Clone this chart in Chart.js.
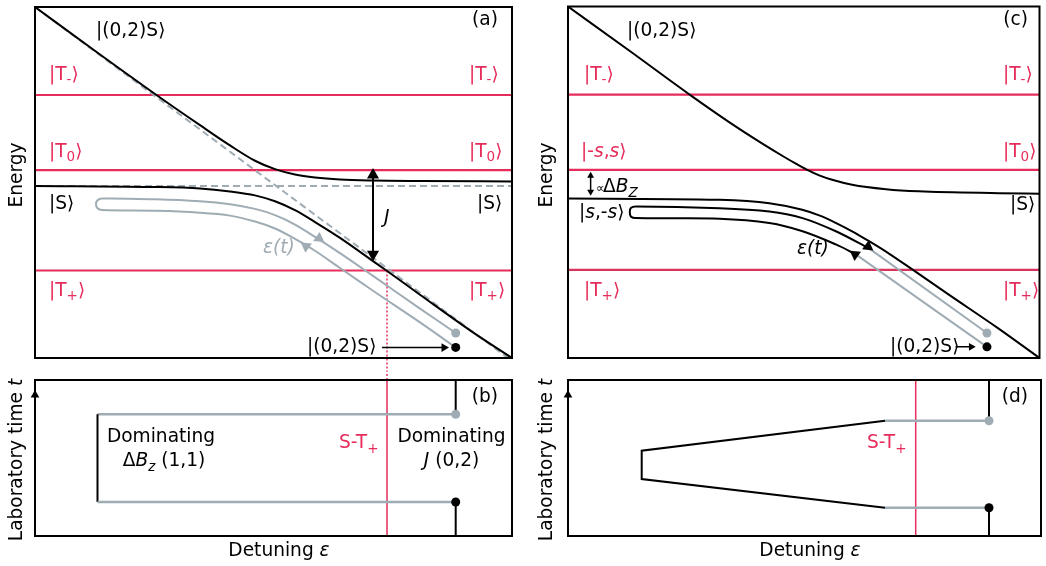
<!DOCTYPE html>
<html>
<head>
<meta charset="utf-8">
<script src="https://cdn.jsdelivr.net/npm/chart.js@4/dist/chart.umd.min.js"></script>
<style>
  body { margin: 0; background: #fff; }
  canvas { position: absolute; }
</style>
</head>
<body>
<canvas id="panelA" width="525" height="372" style="left:0;top:0"></canvas>
<canvas id="panelB" width="525" height="194" style="left:0;top:372px"></canvas>
<canvas id="panelC" width="521" height="372" style="left:525px;top:0"></canvas>
<canvas id="panelD" width="521" height="194" style="left:525px;top:372px"></canvas>
<script>
const RED = "#e62c5a";
const GREY = "#a0acb4";
const FONT = '"DejaVu Sans", Verdana, sans-serif';

// (a) energy vs detuning, arbitrary units
const tripletsA = [266, 190, 88.5]; // T-, T0, T+
const upperA = [[0, 355], [65, 307], [125, 263.5], [165, 235.5], [195, 215], [220, 199.5], [240, 191], [260, 185.5], [280, 182.5], [305, 180.5], [338, 179.5], [385, 179], [477, 178.5]];
const lowerA = [[0, 174], [115, 173], [165, 171.5], [195, 168.5], [220, 164.5], [240, 158.5], [260, 149.5], [280, 137.5], [305, 121.5], [338, 98], [350, 89.5], [385, 64], [435, 28], [477, 0]];
const bareS02A = [[0, 355], [473, 0]];
const bareSA = [[0, 174], [477, 174]];
const sweepA = [[420.7, 10.7], [385, 36], [338, 68], [305, 91], [280, 108.5], [260, 120.5], [240, 131], [220, 138], [195, 144], [165, 147], [121, 149], [67, 149.7], [62.5, 151.5], [61, 155.5], [62.5, 159.5], [67, 161.3], [121, 160.5], [165, 158.5], [195, 155.5], [220, 150.8], [240, 144.5], [260, 135], [280, 122.5], [305, 106], [338, 83], [385, 50], [420.7, 25.3]];
const crossingA = 352; // S-T+ detuning
const gapA = [338, 99, 191]; // J arrow: detuning, bottom, top

// (b) laboratory time vs detuning
const pulseB = [[62.5, 121.7], [62.5, 34]];
const waitB = [121.7, 34]; // end, start
const parkB = 420.7;

// (c) energy vs detuning
const tripletsC = [266, 190, 89];
const upperC = [[0, 355], [62, 310], [122, 266], [162, 238], [195, 216.5], [217, 203], [229, 196], [239, 190.5], [252, 184.5], [265, 180], [285, 175], [319, 170.5], [352, 168.3], [432, 166.5], [473, 166]];
const lowerC = [[0, 161], [152, 159.7], [202, 156.3], [235, 149.7], [252, 144], [269, 136.3], [285, 128], [302, 118], [322, 105.5], [345, 89.7], [382, 64], [432, 29.7], [473, 0]];
const sweepC = [[288.7, 104.7], [268.7, 114.7], [235.3, 128], [202, 136.3], [152, 140.7], [68, 141.3], [63, 143], [62, 147.2], [63, 151.5], [68, 153], [152, 151.3], [202, 148], [235.3, 141.3], [268.7, 128], [302, 110.7]];
const rampC = [[[302, 110.7], [420.3, 25.3]], [[288.7, 104.7], [420.3, 11.3]]];
const zeemanC = [22.7, 167, 185];

// (d) laboratory time vs detuning
const pulseD = [[317, 115.3], [73.7, 85.3], [73.7, 57], [317, 28.3]];
const waitD = [115.3, 28.3];
const parkD = 421;
const crossingD = 347.7;

const pts = (a) => a.map(([x, y]) => ({ x, y }));

function path(data, color, width, more) {
  return Object.assign({
    data: pts(data), showLine: true, borderColor: color, borderWidth: width,
    pointRadius: 0, tension: 0, fill: false,
  }, more || {});
}

const smooth = { cubicInterpolationMode: "monotone" };

function marks(data, color, radius, style, rotation) {
  return {
    data: pts(data), showLine: false, pointStyle: style || "circle",
    pointRadius: radius, pointRotation: rotation || 0,
    pointBackgroundColor: color, pointBorderWidth: 0, borderWidth: 0, clip: false,
  };
}

function fontFor(kind) {
  if (kind === "i") return "italic 18.6px " + FONT;
  if (kind === "sub") return "13.5px " + FONT;
  if (kind === "isub") return "italic 13.5px " + FONT;
  if (kind === "small") return "12px " + FONT;
  return "18.6px " + FONT;
}

function drawRich(ctx, parts, x, y, align) {
  let w = 0;
  parts.forEach(([t, k]) => { ctx.font = fontFor(k); w += ctx.measureText(t).width; });
  let cx = align === "right" ? x - w : align === "center" ? x - w / 2 : x;
  parts.forEach(([t, k]) => {
    ctx.font = fontFor(k);
    const dy = k === "sub" || k === "isub" ? 5 : 0;
    ctx.fillText(t, cx, y + dy);
    cx += ctx.measureText(t).width;
  });
}

const notesPlugin = (notes, origin) => ({
  id: "notes",
  afterDatasetsDraw(chart) {
    const { ctx, chartArea: a } = chart;
    ctx.save();
    ctx.strokeStyle = "#000";
    ctx.lineWidth = 2;
    ctx.strokeRect(a.left, a.top, a.right - a.left, a.bottom - a.top);
    ctx.translate(-origin[0], -origin[1]);
    ctx.textAlign = "left";
    notes.forEach((n) => {
      ctx.fillStyle = n.color || "#000";
      ctx.textBaseline = n.base || "middle";
      if (n.rotate) {
        ctx.save();
        ctx.translate(n.x, n.y);
        ctx.rotate(-Math.PI / 2);
        drawRich(ctx, n.parts, 0, 0, "center");
        ctx.restore();
      } else {
        drawRich(ctx, n.parts, n.x, n.y, n.align);
      }
    });
    ctx.restore();
  },
});

function makeChart(id, padding, xMax, yMax, layers, notes, origin) {
  new Chart(document.getElementById(id), {
    type: "scatter",
    data: { datasets: layers.slice().reverse() },
    options: {
      responsive: false,
      animation: false,
      events: [],
      layout: { padding },
      plugins: { legend: { display: false }, tooltip: { enabled: false } },
      scales: {
        x: { type: "linear", display: false, min: 0, max: xMax },
        y: { type: "linear", display: false, min: 0, max: yMax },
      },
    },
    plugins: [notesPlugin(notes, origin)],
  });
}

const ket = (sub) => [["|T"], [sub, "sub"], ["⟩"]];
const level = (v, w, color) => path([[0, v], [w, v]], color || RED, 2.2);

// (a)
makeChart("panelA", { left: 35, top: 3, right: 13, bottom: 14 }, 477, 355, [
  path([[crossingA, tripletsA[2]], [crossingA, -14]], RED, 1.5, { borderDash: [2, 2], clip: false }),
  ...tripletsA.map((v) => level(v, 477)),
  path(bareSA, GREY, 2, { borderDash: [7, 4] }),
  path(bareS02A, GREY, 2, { borderDash: [7, 4] }),
  path(sweepA, GREY, 2, { tension: 0.35 }),
  marks([[284, 121]], GREY, 6.5, "triangle", 125),
  marks([[271, 113]], GREY, 6.5, "triangle", 305),
  path(upperA, "#000", 2, smooth),
  path(lowerA, "#000", 2, smooth),
  path([[gapA[0], gapA[1] + 3], [gapA[0], gapA[2] - 3]], "#000", 2),
  marks([[gapA[0], gapA[2] - 6]], "#000", 7, "triangle", 0),
  marks([[gapA[0], gapA[1] + 6]], "#000", 7, "triangle", 180),
  path([[347, 10.5], [409, 10.5]], "#000", 1.5),
  marks([[409, 10.5]], "#000", 5, "triangle", 90),
  marks([[parkB, 25.3]], GREY, 4.5),
  marks([[parkB, 10.7]], "#000", 4.5),
], [
  { x: 96, y: 31, parts: [["|(0,2)S⟩"]] },
  { x: 498, y: 20, parts: [["(a)"]], align: "right" },
  { x: 49, y: 75, color: RED, parts: ket("-") },
  { x: 469, y: 75, color: RED, parts: ket("-") },
  { x: 49, y: 152, color: RED, parts: ket("0") },
  { x: 469, y: 152, color: RED, parts: ket("0") },
  { x: 49, y: 204, parts: [["|S⟩"]] },
  { x: 477, y: 204, parts: [["|S⟩"]] },
  { x: 384, y: 218, parts: [["J", "i"]] },
  { x: 263, y: 248, color: GREY, parts: [["ε(t)", "i"]] },
  { x: 49, y: 291, color: RED, parts: ket("+") },
  { x: 469, y: 291, color: RED, parts: ket("+") },
  { x: 307, y: 347, parts: [["|(0,2)S⟩"]] },
  { x: 17, y: 175, parts: [["Energy"]], rotate: true },
], [0, 0]);

// (b)
makeChart("panelB", { left: 35, top: 8, right: 13, bottom: 30 }, 477, 156, [
  path([[crossingA, 0], [crossingA, 156]], RED, 1.5),
  path([[crossingA, 156], [crossingA, 170]], RED, 1.5, { borderDash: [2, 2], clip: false }),
  path([[parkB, 156], [parkB, waitB[0]]], "#000", 2),
  path([[pulseB[0][0], waitB[0]], [parkB, waitB[0]]], GREY, 2.5),
  path(pulseB, "#000", 2),
  path([[pulseB[1][0], waitB[1]], [parkB, waitB[1]]], GREY, 2.5),
  path([[parkB, waitB[1]], [parkB, 0]], "#000", 2),
  marks([[parkB, waitB[0]]], GREY, 4.5),
  marks([[parkB, waitB[1]]], "#000", 4.5),
  marks([[0, 141]], "#000", 5, "triangle", 0),
], [
  { x: 161, y: 442, base: "alphabetic", align: "center", parts: [["Dominating"]] },
  { x: 164, y: 465.5, base: "alphabetic", align: "center", parts: [["Δ"], ["B", "i"], ["z", "isub"], [" (1,1)"]] },
  { x: 339, y: 447.5, base: "alphabetic", color: RED, parts: [["S-T"], ["+", "sub"]] },
  { x: 451.5, y: 442, base: "alphabetic", align: "center", parts: [["Dominating"]] },
  { x: 451.5, y: 465.5, base: "alphabetic", align: "center", parts: [["J", "i"], [" (0,2)"]] },
  { x: 498, y: 397, align: "right", parts: [["(b)"]] },
  { x: 279, y: 556, base: "alphabetic", align: "center", parts: [["Detuning "], ["ε", "i"]] },
  { x: 17, y: 460, rotate: true, parts: [["Laboratory time "], ["t", "i"]] },
], [0, 372]);

// (c)
makeChart("panelC", { left: 43, top: 3, right: 5, bottom: 14 }, 473, 355, [
  level(tripletsC[0], 473),
  level(tripletsC[1], 473),
  level(tripletsC[2], 473, "#d8335c"),
  path(rampC[0], GREY, 2),
  path(rampC[1], GREY, 2),
  path(sweepC, "#000", 2, { tension: 0.35 }),
  marks([[301, 112.5]], "#000", 6.5, "triangle", 126),
  marks([[288, 104.5]], "#000", 6.5, "triangle", 305),
  path(upperC, "#000", 2, smooth),
  path(lowerC, "#000", 2, smooth),
  path([[zeemanC[0], zeemanC[1]], [zeemanC[0], zeemanC[2]]], "#000", 1.5),
  marks([[zeemanC[0], zeemanC[2] - 1]], "#000", 4, "triangle", 0),
  marks([[zeemanC[0], zeemanC[1] + 1]], "#000", 4, "triangle", 180),
  path([[388.7, 11.3], [405, 11.3]], "#000", 1.5),
  marks([[404.5, 11.3]], "#000", 4.5, "triangle", 90),
  marks([[420.3, 25.3]], GREY, 4.5),
  marks([[420.3, 11.3]], "#000", 4.5),
], [
  { x: 627, y: 31, parts: [["|(0,2)S⟩"]] },
  { x: 1028, y: 20, align: "right", parts: [["(c)"]] },
  { x: 584, y: 75, color: RED, parts: ket("-") },
  { x: 1003, y: 75, color: RED, parts: ket("-") },
  { x: 581, y: 152, color: RED, parts: [["|-"], ["s", "i"], [","], ["s", "i"], ["⟩"]] },
  { x: 1003, y: 152, color: RED, parts: ket("0") },
  { x: 596, y: 189, parts: [["∝", "small"]] },
  { x: 603, y: 191.5, base: "alphabetic", parts: [["Δ"], ["B", "i"], ["Z", "isub"]] },
  { x: 579, y: 213.5, parts: [["|"], ["s", "i"], [",-"], ["s", "i"], ["⟩"]] },
  { x: 1010, y: 205, parts: [["|S⟩"]] },
  { x: 797, y: 249, parts: [["ε(t)", "i"]] },
  { x: 584, y: 291, color: RED, parts: ket("+") },
  { x: 1003, y: 291, color: RED, parts: ket("+") },
  { x: 890, y: 347, parts: [["|(0,2)S⟩"]] },
  { x: 547, y: 175, rotate: true, parts: [["Energy"]] },
], [525, 0]);

// (d)
makeChart("panelD", { left: 43, top: 8, right: 5, bottom: 30 }, 473, 156, [
  path([[crossingD, 0], [crossingD, 156]], RED, 1.5),
  path([[parkD, 156], [parkD, waitD[0]]], "#000", 2),
  path([[pulseD[0][0], waitD[0]], [parkD, waitD[0]]], GREY, 2.5),
  path(pulseD, "#000", 2),
  path([[pulseD[3][0], waitD[1]], [parkD, waitD[1]]], GREY, 2.5),
  path([[parkD, waitD[1]], [parkD, 0]], "#000", 2),
  marks([[parkD, waitD[0]]], GREY, 4.5),
  marks([[parkD, waitD[1]]], "#000", 4.5),
  marks([[0, 141]], "#000", 5, "triangle", 0),
], [
  { x: 867, y: 448.3, base: "alphabetic", color: RED, parts: [["S-T"], ["+", "sub"]] },
  { x: 1028, y: 397, align: "right", parts: [["(d)"]] },
  { x: 810, y: 556, base: "alphabetic", align: "center", parts: [["Detuning "], ["ε", "i"]] },
  { x: 547, y: 460, rotate: true, parts: [["Laboratory time "], ["t", "i"]] },
], [525, 372]);
</script>
</body>
</html>
